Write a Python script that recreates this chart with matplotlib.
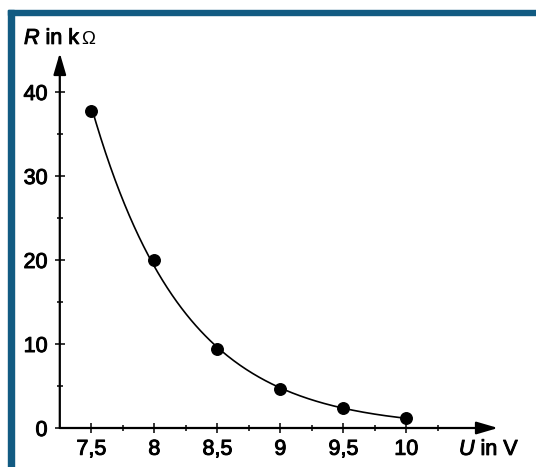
import numpy as np
import matplotlib.pyplot as plt
import matplotlib.patheffects as pe
from matplotlib.patches import Rectangle

plt.rcParams['font.family'] = ['Liberation Sans', 'DejaVu Sans']
plt.rcParams['mathtext.fontset'] = 'custom'
plt.rcParams['mathtext.rm'] = 'Liberation Sans'
plt.rcParams['mathtext.it'] = 'Liberation Sans:italic'

# measured values
U = [7.5, 8.0, 8.5, 9.0, 9.5, 10.0]
R = [37.7, 20.0, 9.4, 4.7, 2.4, 1.15]
xticks = [7.5, 8.0, 8.5, 9.0, 9.5, 10.0]
xticklabels = ['7,5', '8', '8,5', '9', '9,5', '10']
xminor = [7.75, 8.25, 8.75, 9.25, 9.75, 10.25]
yticks = [0, 10, 20, 30, 40]
yminor = [5, 15, 25, 35]

W, H = 536, 467
FS = 15.5
thick = [pe.withStroke(linewidth=0.7, foreground='black')]

fig = plt.figure(figsize=(W / 100, H / 100), dpi=100)
fig.patch.set_facecolor('white')

# pixel mapping of the reference: U=7.5 -> px 91.3, 126 px per V; R=0 -> py 428, 8.4 px per kOhm
ax = fig.add_axes([0, 0, 1, 1])
ax.set_xlim(7.5 - 91.3 / 126, 7.5 + (W - 91.3) / 126)
ax.set_ylim((428 - H) / 8.4, 428 / 8.4)
ax.patch.set_alpha(0)

x0, y0 = 7.25, 0
ax.spines['left'].set_position(('data', x0))
ax.spines['bottom'].set_position(('data', y0))
for s in ax.spines.values():
    s.set_visible(False)

# axes with arrow heads
arrow = dict(arrowstyle='-|>,head_length=1.3,head_width=0.38', lw=1.6,
             color='black', mutation_scale=10, shrinkA=0, shrinkB=0)
ax.annotate('', xy=(7.5 + (498 - 91.3) / 126, y0), xytext=(x0, y0), arrowprops=arrow)
ax.annotate('', xy=(x0, (428 - 53) / 8.4), xytext=(x0, y0), arrowprops=arrow)

ax.set_xticks(xticks, labels=xticklabels)
ax.set_xticks(xminor, minor=True)
ax.set_yticks(yticks, labels=[str(v) for v in yticks])
ax.set_yticks(yminor, minor=True)
ax.tick_params(which='major', direction='inout', length=7.5, width=1.1,
               labelsize=FS, color='black')
ax.tick_params(which='minor', direction='inout', length=5, width=1.1, color='black')
ax.tick_params(axis='x', which='major', pad=4)
ax.tick_params(axis='y', which='major', pad=5)
for lab in ax.get_xticklabels() + ax.get_yticklabels():
    lab.set_path_effects(thick)

# smooth trend through the points (fit in log space)
coef = np.polyfit(U, np.log(R), 2)
xs = np.linspace(U[0], U[-1], 200)
ax.plot(xs, np.exp(np.polyval(coef, xs)), color='black', lw=1.2)
ax.plot(U, R, 'o', color='black', markersize=8.3)

# axis titles, the Omega is set a bit smaller like in the print
ylab = fig.text(24 / W, 1 - 44 / H, r'$R$ in k', fontsize=FS, va='baseline', path_effects=thick)
ax.annotate('Ω', xy=(1.0, 0.0), xycoords=ylab, xytext=(0.5, 1.0), textcoords='offset points',
            fontsize=13.5, va='bottom', ha='left', annotation_clip=False)
fig.text(459 / W, 1 - 455 / H, r'$U$ in V', fontsize=FS, va='baseline', path_effects=thick)

# blue frame
blue = '#125b82'
fig.patches.append(Rectangle((8 / W, 0), 6 / W, 1 - 10 / H, transform=fig.transFigure,
                             color=blue, zorder=0))
fig.patches.append(Rectangle((8 / W, 1 - 15 / H), 1 - 8 / W, 5 / H, transform=fig.transFigure,
                             color=blue, zorder=0))

fig.savefig('out.png', dpi=100)
